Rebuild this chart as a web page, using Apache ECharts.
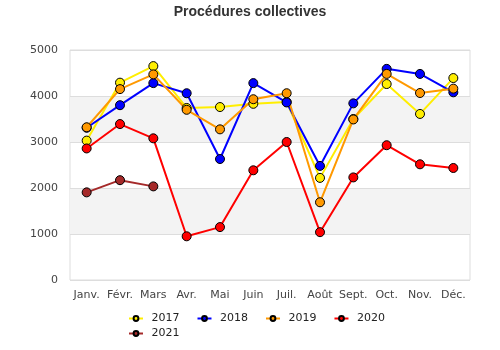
<!DOCTYPE html>
<html><head><meta charset="utf-8">
<script src="https://cdn.jsdelivr.net/npm/echarts@6/dist/echarts.min.js"></script>
<style>html,body{margin:0;padding:0;background:#fff}#c{width:500px;height:350px}</style>
</head><body><div id="c"></div>
<script>
var categories = ['Janv.','Févr.','Mars','Avr.','Mai','Juin','Juil.','Août','Sept.','Oct.','Nov.','Déc.'];
var y2017 = [3030,4290,4650,3740,3760,3830,3870,2220,3500,4260,3610,4390];
var y2018 = [3310,3800,4280,4060,2630,4280,3860,2480,3840,4590,4480,4080];
var y2019 = [3320,4150,4470,3700,3275,3930,4060,1690,3490,4480,4065,4160];
var y2020 = [2860,3390,3080,950,1150,2385,3000,1040,2230,2930,2515,2435];
var y2021 = [1905,2170,2035];
var seriesNames = ['2017','2018','2019','2020','2021'];
var colors = ['#ffee00','#0000ff','#ff9900','#ff0000','#a52a2a'];
var allData = [y2017,y2018,y2019,y2020,y2021];

var legendBase = {itemWidth:14,itemHeight:6,itemGap:17,
  textStyle:{fontFamily:'DejaVu Sans',fontSize:11,color:'#222'},
  formatter:function(n){return ' '+n;}};
var chart = echarts.init(document.getElementById('c'));
chart.setOption({
  animation:false,
  title:{text:'Procédures collectives',left:'center',top:0,textStyle:{fontFamily:'Liberation Sans',fontWeight:'bold',fontSize:14,color:'#333'}},
  grid:{left:70,right:30,top:50,bottom:70,show:true,borderColor:'#dddddd',borderWidth:1,containLabel:false},
  legend:[
    Object.assign({left:123,top:308,data:seriesNames.slice(0,4)},legendBase),
    Object.assign({left:123,top:323,data:seriesNames.slice(4)},legendBase)
  ],
  xAxis:{type:'category',data:categories,boundaryGap:true,
    axisLine:{show:false},axisTick:{show:false},
    axisLabel:{fontFamily:'DejaVu Sans',fontSize:11,color:'#444',margin:10,interval:0}},
  yAxis:{type:'value',min:0,max:5000,interval:1000,
    axisLine:{show:false},axisTick:{show:false},
    axisLabel:{fontFamily:'DejaVu Sans',fontSize:11,color:'#444',margin:12,formatter:function(v){return String(v);}},
    splitLine:{lineStyle:{color:'#dddddd'}},
    splitArea:{show:true,areaStyle:{color:['rgba(255,255,255,0)','#f3f3f3']}}},
  series: seriesNames.map(function(n,i){
    return {name:n,type:'line',data:allData[i],symbol:'circle',symbolSize:9,
      lineStyle:{color:colors[i],width:2},
      itemStyle:{color:colors[i],borderColor:'#000',borderWidth:1}};
  })
});
</script></body></html>
